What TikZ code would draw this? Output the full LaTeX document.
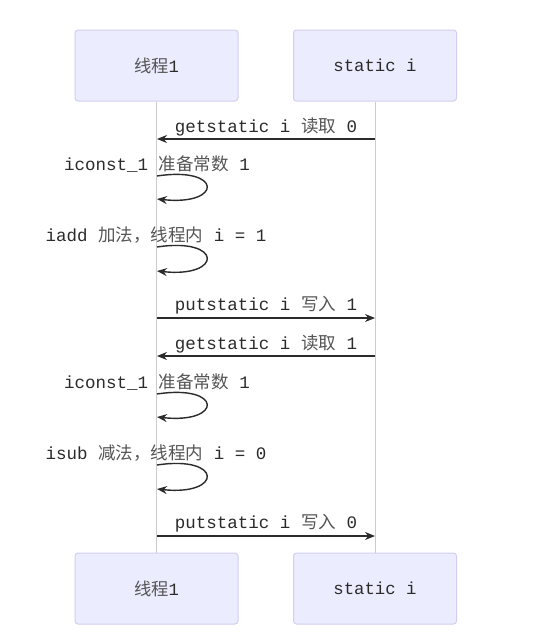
\documentclass[tikz,border=0pt]{standalone}
\usepackage{fontspec}
\setmainfont{Liberation Mono}
\newfontfamily\zhfont{Noto Sans CJK SC}
\usetikzlibrary{arrows.meta}
\definecolor{txt}{HTML}{2B2B2B}
\definecolor{zhc}{HTML}{555555}
\definecolor{actfill}{HTML}{ECECFF}
\definecolor{actline}{HTML}{D2CEF2}
\definecolor{life}{HTML}{CCCCCC}
\newcommand\zh[1]{{\zhfont\color{zhc}#1}}
\begin{document}
\begin{tikzpicture}[x=1pt,y=-1pt,
  actor/.style={draw=actline, fill=actfill, rounded corners=3pt, minimum width=163pt, minimum height=71pt, line width=1pt, text=txt, font=\fontsize{17.3}{20}\selectfont},
  lbl/.style={text=txt, font=\fontsize{17.5}{20}\selectfont, inner sep=0pt},
  lifeline/.style={draw=life, line width=1pt},
  msg/.style={draw=txt, line width=1.4pt, -{Stealth[length=10pt,width=8pt]}}]
\useasboundingbox (0,0) rectangle (551,640);
\fill[white] (0,0) rectangle (551,640);
% actors
\node[actor] (a1) at (156.5,65.5) {\zh{线程}1};
\node[actor] (s1) at (375,65.5) {static i};
\node[actor] (a2) at (156.5,588.5) {\zh{线程}1};
\node[actor] (s2) at (375,588.5) {static i};
% lifelines
\draw[lifeline] (a1.south) -- (a2.north);
\draw[lifeline] (s1.south) -- (s2.north);
% message 1
\coordinate (m1r) at (375,139); \coordinate (m1l) at (157,139);
\draw[msg] (m1r) -- (m1l);
\node[lbl] (t1) at (266,127) {getstatic i \zh{读取} 0};
% loop 1
\coordinate (c1a) at (157,176); \coordinate (c1b) at (157,199);
\draw[msg] (c1a) .. controls (223,166) and (223,206) .. (c1b);
\node[lbl] (t2) at (157,164) {iconst\_1 \zh{准备常数} 1};
% loop 2
\coordinate (c2a) at (157,247); \coordinate (c2b) at (157,271);
\draw[msg] (c2a) .. controls (223,237) and (223,278) .. (c2b);
\node[lbl] (t3) at (156,235) {iadd \zh{加法，线程内} i = 1};
% message 2
\coordinate (m2l) at (157,318); \coordinate (m2r) at (375,318);
\draw[msg] (m2l) -- (m2r);
\node[lbl] (t4) at (266,305) {putstatic i \zh{写入} 1};
% message 3
\coordinate (m3r) at (375,356); \coordinate (m3l) at (157,356);
\draw[msg] (m3r) -- (m3l);
\node[lbl] (t5) at (266,344) {getstatic i \zh{读取} 1};
% loop 3
\coordinate (c3a) at (157,394); \coordinate (c3b) at (157,417);
\draw[msg] (c3a) .. controls (223,384) and (223,424) .. (c3b);
\node[lbl] (t6) at (157,382) {iconst\_1 \zh{准备常数} 1};
% loop 4
\coordinate (c4a) at (157,465); \coordinate (c4b) at (157,489);
\draw[msg] (c4a) .. controls (223,455) and (223,496) .. (c4b);
\node[lbl] (t7) at (156,453) {isub \zh{减法，线程内} i = 0};
% message 4
\coordinate (m4l) at (157,536); \coordinate (m4r) at (375,536);
\draw[msg] (m4l) -- (m4r);
\node[lbl] (t8) at (266,523) {putstatic i \zh{写入} 0};
\end{tikzpicture}
\end{document}
